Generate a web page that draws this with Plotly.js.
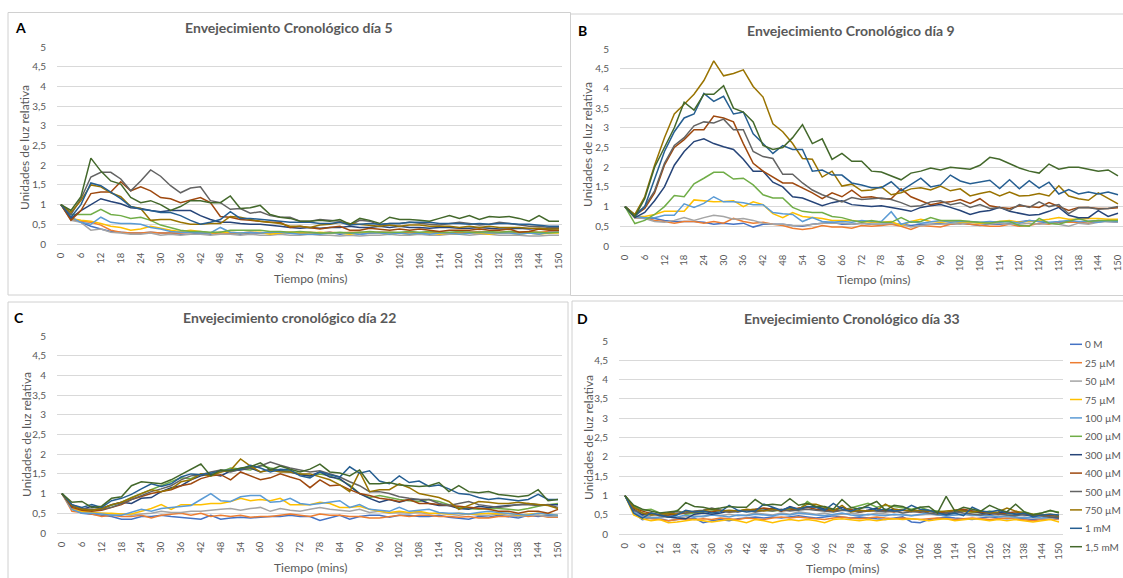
<!DOCTYPE html>
<html><head><meta charset="utf-8">
<script src="https://cdn.plot.ly/plotly-3.0.1.min.js"></script>
<style>html,body{margin:0;padding:0;background:#fff;overflow:hidden;} #chart{width:1123px;height:578px;}</style>
</head><body><div id="chart"></div>
<script>
// ---- categories / labels ----
const times = [0,3,6,9,12,15,18,21,24,27,30,33,36,39,42,45,48,51,54,57,60,63,66,69,72,75,78,81,84,87,90,93,96,99,102,105,108,111,114,117,120,123,126,129,132,135,138,141,144,147,150];
const xTicks = [0,6,12,18,24,30,36,42,48,54,60,66,72,78,84,90,96,102,108,114,120,126,132,138,144,150];
const seriesNames = ['0 M','25 µM','50 µM','75 µM','100 µM','200 µM','300 µM','400 µM','500 µM','750 µM','1 mM','1,5 mM'];
const seriesColors = ['#4472C4','#ED7D31','#A5A5A5','#FFC000','#5B9BD5','#70AD47','#264478','#9E480E','#636363','#997300','#255E91','#43682B'];
const panelTitles = ['Envejecimiento Cronológico día 5','Envejecimiento Cronológico día 9','Envejecimiento cronológico día 22','Envejecimiento Cronológico día 33'];
const panelLetters = ['A','B','C','D'];
const xTitle = 'Tiempo (mins)';
const yTitle = 'Unidades de luz relativa';

// ---- Panel A: día 5 ----
const d5_0 = [1,0.65,0.55,0.45,0.38,0.32,0.3,0.28,0.28,0.3, 0.28,0.28,0.25,0.25,0.28,0.25,0.3,0.28,0.25,0.28, 0.28,0.28,0.3,0.28,0.28,0.25,0.28,0.3,0.25,0.28, 0.25,0.28,0.3,0.28,0.28,0.3,0.28,0.28,0.3,0.28, 0.28,0.3,0.28,0.3,0.28,0.3,0.28,0.3,0.28,0.3, 0.3];
const d5_25 = [1,0.62,0.58,0.55,0.48,0.35,0.3,0.28,0.28,0.3, 0.28,0.28,0.28,0.3,0.28,0.28,0.28,0.28,0.28,0.3, 0.28,0.3,0.28,0.3,0.28,0.3,0.28,0.3,0.28,0.3, 0.3,0.28,0.3,0.3,0.28,0.3,0.28,0.3,0.3,0.28, 0.3,0.3,0.32,0.3,0.3,0.32,0.3,0.32,0.3,0.32, 0.3];
const d5_50 = [1,0.6,0.55,0.35,0.38,0.3,0.28,0.25,0.25,0.28, 0.22,0.25,0.22,0.25,0.25,0.22,0.25,0.25,0.22,0.25, 0.22,0.22,0.25,0.22,0.22,0.25,0.22,0.22,0.2,0.22, 0.2,0.22,0.22,0.25,0.22,0.22,0.25,0.22,0.22,0.25, 0.25,0.22,0.25,0.25,0.22,0.22,0.22,0.2,0.2,0.22, 0.22];
const d5_75 = [1,0.65,0.6,0.58,0.52,0.45,0.42,0.35,0.38,0.45, 0.4,0.35,0.32,0.35,0.32,0.28,0.3,0.3,0.28,0.3, 0.3,0.25,0.28,0.3,0.28,0.28,0.3,0.28,0.28,0.25, 0.28,0.3,0.28,0.25,0.28,0.25,0.28,0.28,0.25,0.28, 0.25,0.28,0.28,0.25,0.28,0.28,0.25,0.28,0.25,0.28, 0.28];
const d5_100 = [1,0.68,0.55,0.5,0.68,0.55,0.52,0.52,0.5,0.42, 0.38,0.32,0.3,0.3,0.28,0.28,0.42,0.3,0.28,0.3, 0.28,0.3,0.3,0.28,0.25,0.25,0.25,0.28,0.28,0.28, 0.25,0.28,0.28,0.25,0.28,0.25,0.28,0.25,0.28,0.28, 0.25,0.28,0.3,0.28,0.28,0.28,0.25,0.28,0.25,0.3, 0.3];
const d5_200 = [1,0.75,0.75,0.75,0.88,0.75,0.72,0.65,0.68,0.6, 0.48,0.42,0.35,0.32,0.32,0.3,0.3,0.35,0.35,0.35, 0.35,0.32,0.32,0.3,0.32,0.3,0.28,0.28,0.3,0.28, 0.3,0.32,0.3,0.3,0.3,0.32,0.3,0.32,0.3,0.3, 0.32,0.3,0.3,0.32,0.3,0.32,0.3,0.3,0.3,0.28, 0.3];
const d5_300 = [1,0.65,0.85,1.0,1.15,1.08,1.02,0.92,0.9,0.85, 0.82,0.85,0.85,0.85,0.72,0.62,0.55,0.55,0.52,0.5, 0.5,0.48,0.45,0.42,0.4,0.42,0.4,0.42,0.42,0.45, 0.42,0.42,0.45,0.42,0.45,0.42,0.42,0.4,0.42,0.42, 0.4,0.4,0.42,0.4,0.38,0.38,0.4,0.38,0.4,0.38, 0.4];
const d5_400 = [1,0.6,0.85,1.28,1.32,1.32,1.58,1.35,1.45,1.35, 1.18,1.15,1.05,1.12,1.18,1.05,0.7,0.68,0.62,0.6, 0.58,0.55,0.55,0.42,0.45,0.42,0.38,0.42,0.45,0.35, 0.35,0.4,0.38,0.35,0.38,0.35,0.38,0.35,0.32,0.35, 0.35,0.35,0.38,0.35,0.35,0.38,0.3,0.32,0.38,0.35, 0.35];
const d5_500 = [1,0.75,1.15,1.7,1.82,1.82,1.65,1.35,1.6,1.88, 1.72,1.48,1.3,1.42,1.45,1.1,1.05,0.88,0.9,0.78, 0.82,0.72,0.68,0.68,0.58,0.58,0.62,0.6,0.58,0.48, 0.6,0.58,0.48,0.52,0.52,0.55,0.52,0.5,0.48,0.52, 0.55,0.52,0.48,0.5,0.55,0.52,0.48,0.45,0.45,0.42, 0.42];
const d5_750 = [1,0.8,1.1,1.5,1.45,1.3,1.2,0.95,0.9,0.6, 0.62,0.62,0.55,0.5,0.5,0.52,0.52,0.7,0.68,0.62, 0.58,0.55,0.52,0.45,0.45,0.42,0.48,0.5,0.55,0.52, 0.5,0.48,0.45,0.48,0.45,0.48,0.48,0.45,0.45,0.45, 0.42,0.45,0.42,0.45,0.42,0.42,0.42,0.4,0.4,0.38, 0.38];
const d5_1mM = [1,0.68,1.0,1.55,1.48,1.32,1.15,0.95,0.88,0.85, 0.8,0.8,0.72,0.6,0.5,0.55,0.62,0.82,0.65,0.65, 0.62,0.6,0.58,0.55,0.55,0.55,0.52,0.52,0.55,0.48, 0.5,0.52,0.5,0.52,0.52,0.55,0.55,0.55,0.52,0.52, 0.52,0.5,0.52,0.5,0.52,0.52,0.5,0.5,0.48,0.45, 0.45];
const d5_15mM = [1,0.85,1.2,2.18,1.85,1.6,1.52,1.18,1.05,1.1, 1.0,0.85,0.95,1.1,1.1,1.05,1.05,1.22,0.9,0.92, 0.98,0.75,0.68,0.65,0.58,0.58,0.6,0.58,0.62,0.5, 0.65,0.6,0.52,0.68,0.62,0.62,0.6,0.58,0.65,0.72, 0.65,0.72,0.62,0.7,0.68,0.7,0.65,0.58,0.72,0.58, 0.58];

// ---- Panel B: día 9 ----
const d9_0 = [1,0.72,0.7,0.7,0.65,0.62,0.62,0.62,0.6,0.55, 0.58,0.55,0.58,0.48,0.55,0.55,0.55,0.52,0.5,0.55, 0.58,0.6,0.55,0.55,0.58,0.55,0.55,0.55,0.55,0.52, 0.55,0.55,0.58,0.55,0.58,0.55,0.52,0.55,0.55,0.58, 0.62,0.65,0.62,0.58,0.6,0.62,0.6,0.62,0.65,0.62, 0.6];
const d9_25 = [1,0.72,0.72,0.65,0.62,0.58,0.62,0.62,0.58,0.62, 0.58,0.7,0.62,0.58,0.6,0.55,0.52,0.45,0.42,0.45, 0.52,0.48,0.48,0.45,0.52,0.5,0.52,0.55,0.5,0.42, 0.52,0.5,0.48,0.55,0.58,0.55,0.52,0.5,0.5,0.55, 0.5,0.52,0.58,0.55,0.62,0.6,0.6,0.58,0.62,0.65, 0.62];
const d9_50 = [1,0.72,0.7,0.62,0.6,0.65,0.72,0.65,0.72,0.78, 0.75,0.68,0.7,0.65,0.58,0.55,0.55,0.52,0.52,0.55, 0.58,0.58,0.58,0.55,0.58,0.55,0.55,0.58,0.55,0.48, 0.52,0.55,0.55,0.58,0.55,0.6,0.58,0.55,0.58,0.55, 0.55,0.58,0.55,0.58,0.55,0.5,0.58,0.55,0.6,0.62, 0.6];
const d9_75 = [1,0.75,0.75,0.8,0.88,0.88,0.88,1.17,1.15,1.12, 1.13,1.15,1.0,1.12,1.05,0.82,0.72,0.85,0.75,0.72, 0.7,0.65,0.65,0.65,0.62,0.6,0.6,0.62,0.52,0.62, 0.68,0.62,0.6,0.62,0.6,0.6,0.58,0.6,0.62,0.65, 0.6,0.62,0.65,0.68,0.72,0.68,0.68,0.7,0.7,0.68, 0.68];
const d9_100 = [1,0.75,0.72,0.72,0.78,0.78,1.07,0.98,1.08,1.25, 1.12,1.12,1.1,1.05,1.05,0.85,0.82,0.8,0.62,0.72, 0.62,0.6,0.62,0.6,0.65,0.62,0.62,0.87,0.55,0.62, 0.58,0.62,0.65,0.6,0.62,0.62,0.6,0.62,0.6,0.62, 0.58,0.65,0.62,0.6,0.62,0.65,0.62,0.62,0.6,0.65, 0.62];
const d9_200 = [1,0.57,0.65,0.8,1.0,1.28,1.25,1.58,1.72,1.87, 1.87,1.7,1.72,1.55,1.3,1.22,1.22,0.98,0.88,0.85, 0.85,0.75,0.72,0.65,0.6,0.65,0.6,0.6,0.72,0.6, 0.62,0.72,0.65,0.65,0.65,0.62,0.6,0.58,0.62,0.62, 0.52,0.5,0.7,0.58,0.55,0.62,0.7,0.62,0.65,0.65, 0.65];
const d9_300 = [1,0.72,0.85,1.15,1.5,2.05,2.4,2.65,2.72,2.6, 2.52,2.45,2.2,1.9,1.9,1.62,1.5,1.25,1.22,1.12, 1.02,1.1,1.15,1.05,1.02,1.0,1.02,0.98,0.93,0.88, 0.98,1.02,1.05,0.98,0.9,0.8,0.87,0.9,0.98,0.88, 0.83,0.78,0.8,0.88,0.98,0.78,0.72,0.72,0.9,0.75, 0.83];
const d9_400 = [1,0.78,0.95,1.35,2.05,2.5,2.7,2.95,2.95,3.3, 3.25,3.15,2.6,2.1,1.9,1.75,1.6,1.6,1.48,1.35, 1.2,1.35,1.25,1.42,1.23,1.25,1.2,1.2,1.45,1.25, 1.15,1.05,1.1,1.12,1.18,1.08,1.2,1.02,0.98,0.95, 1.02,1.0,0.98,1.1,1.0,0.9,0.98,0.98,0.95,0.95, 0.97];
const d9_500 = [1,0.8,1.0,1.4,2.1,2.55,2.75,3.05,3.15,3.12, 3.22,2.95,2.95,2.4,2.27,2.22,1.82,1.82,1.6,1.42, 1.3,1.2,1.12,1.23,1.18,1.2,1.22,1.18,1.1,1.0, 1.02,1.12,1.15,1.05,1.1,0.98,1.05,0.95,0.98,0.9, 1.05,0.98,1.12,1.0,1.05,0.82,0.97,0.98,0.93,0.95, 1.0];
const d9_750 = [1,0.8,1.25,2.05,2.75,3.35,3.6,3.85,4.2,4.7, 4.32,4.38,4.47,4.05,3.78,3.1,2.9,2.6,2.22,2.2, 1.75,1.9,1.52,1.57,1.4,1.42,1.5,1.3,1.35,1.45, 1.48,1.42,1.52,1.4,1.45,1.27,1.33,1.38,1.27,1.37, 1.27,1.28,1.33,1.27,1.53,1.27,1.2,1.16,1.35,1.2, 1.07];
const d9_1mM = [1,0.75,1.0,1.7,2.4,2.9,3.25,3.35,3.87,3.67, 3.8,3.35,3.4,2.85,2.6,2.35,2.55,2.45,2.45,1.9, 1.93,1.8,1.8,1.6,1.55,1.48,1.48,1.63,1.4,1.55, 1.72,1.5,1.55,1.8,1.65,1.58,1.62,1.67,1.46,1.68, 1.45,1.66,1.47,1.62,1.32,1.43,1.32,1.37,1.32,1.37, 1.3];
const d9_15mM = [1,0.75,1.2,2.0,2.5,3.0,3.65,3.45,3.85,3.85, 4.07,3.5,3.4,3.15,2.55,2.45,2.5,2.75,3.08,2.6, 2.72,2.2,2.35,2.15,2.15,1.9,1.88,1.78,1.68,1.85, 1.9,1.98,1.93,2.0,1.98,1.95,2.05,2.25,2.2,2.08, 1.98,1.9,1.85,2.08,1.95,2.0,2.0,1.95,1.9,1.93, 1.78];

// ---- Panel C: día 22 ----
const d22_0 = [1,0.62,0.5,0.48,0.45,0.42,0.35,0.35,0.42,0.42, 0.45,0.42,0.4,0.38,0.35,0.45,0.35,0.38,0.4,0.38, 0.4,0.42,0.42,0.45,0.42,0.42,0.32,0.38,0.45,0.35, 0.42,0.45,0.45,0.4,0.45,0.45,0.42,0.42,0.45,0.4, 0.38,0.35,0.42,0.4,0.45,0.42,0.38,0.45,0.42,0.45, 0.42];
const d22_25 = [1,0.55,0.52,0.48,0.42,0.45,0.42,0.42,0.45,0.38, 0.45,0.48,0.5,0.45,0.5,0.42,0.45,0.42,0.45,0.4, 0.42,0.42,0.45,0.48,0.45,0.42,0.48,0.45,0.45,0.42, 0.42,0.38,0.38,0.42,0.45,0.42,0.45,0.45,0.42,0.42, 0.4,0.42,0.38,0.38,0.42,0.42,0.45,0.42,0.45,0.4, 0.4];
const d22_50 = [1,0.6,0.52,0.5,0.5,0.48,0.48,0.45,0.48,0.5, 0.55,0.52,0.52,0.55,0.55,0.58,0.6,0.62,0.58,0.62, 0.65,0.55,0.62,0.58,0.55,0.6,0.65,0.6,0.58,0.55, 0.6,0.52,0.55,0.5,0.52,0.5,0.52,0.48,0.5,0.48, 0.45,0.48,0.45,0.45,0.48,0.45,0.42,0.45,0.45,0.42, 0.42];
const d22_75 = [1,0.62,0.55,0.52,0.5,0.5,0.48,0.48,0.55,0.62, 0.72,0.6,0.72,0.72,0.72,0.75,0.75,0.8,0.88,0.82, 0.85,0.82,0.88,0.72,0.72,0.72,0.78,0.75,0.65,0.65, 0.68,0.6,0.55,0.52,0.55,0.52,0.55,0.5,0.5,0.48, 0.5,0.48,0.48,0.5,0.48,0.5,0.45,0.48,0.5,0.48, 0.45];
const d22_100 = [1,0.6,0.5,0.5,0.48,0.45,0.45,0.52,0.6,0.55, 0.62,0.65,0.68,0.7,0.85,1.0,0.82,0.8,0.92,0.95, 0.95,0.78,0.8,0.88,0.75,0.72,0.75,0.78,0.82,0.65, 0.72,0.6,0.58,0.55,0.65,0.55,0.58,0.6,0.52,0.5, 0.5,0.48,0.52,0.55,0.52,0.5,0.48,0.45,0.5,0.48, 0.45];
const d22_200 = [1,0.7,0.6,0.58,0.62,0.7,0.78,0.9,1.0,1.12, 1.2,1.3,1.4,1.38,1.5,1.5,1.55,1.65,1.62,1.6, 1.72,1.65,1.6,1.58,1.5,1.45,1.5,1.45,1.35,1.22, 1.0,0.9,0.95,0.9,0.85,0.82,0.8,0.85,0.8,0.72, 0.65,0.62,0.6,0.62,0.62,0.6,0.58,0.62,0.68,0.72, 0.75];
const d22_300 = [1,0.68,0.6,0.68,0.62,0.72,0.78,0.75,0.88,0.9, 1.05,1.15,1.2,1.35,1.45,1.5,1.45,1.58,1.6,1.65, 1.55,1.62,1.58,1.55,1.48,1.45,1.55,1.42,1.38,1.2, 1.0,0.88,0.78,0.85,0.78,0.85,0.85,0.75,0.7,0.7, 0.62,0.6,0.68,0.65,0.68,0.7,0.72,0.75,0.72,0.72, 0.72];
const d22_400 = [1,0.65,0.58,0.55,0.58,0.65,0.72,0.85,0.92,1.0, 1.05,1.1,1.2,1.25,1.38,1.45,1.48,1.35,1.55,1.45, 1.35,1.4,1.5,1.42,1.35,1.15,1.35,1.2,1.22,1.1, 1.0,0.95,0.88,0.85,0.8,0.85,0.75,0.75,0.72,0.7, 0.68,0.65,0.62,0.6,0.55,0.55,0.5,0.55,0.55,0.5, 0.6];
const d22_500 = [1,0.72,0.62,0.6,0.6,0.65,0.75,0.85,0.95,1.05, 1.12,1.2,1.35,1.45,1.48,1.55,1.6,1.55,1.62,1.65, 1.7,1.8,1.72,1.65,1.6,1.55,1.58,1.5,1.42,1.3, 1.2,1.05,1.05,1.0,0.92,0.88,0.85,0.85,0.75,0.7, 0.75,0.8,0.72,0.68,0.65,0.68,0.72,0.72,0.7,0.72, 0.65];
const d22_750 = [1,0.7,0.6,0.58,0.62,0.72,0.78,0.9,1.0,1.1, 1.05,1.12,1.3,1.35,1.5,1.45,1.55,1.6,1.88,1.7, 1.55,1.6,1.55,1.55,1.5,1.5,1.42,1.35,1.22,1.05, 1.55,1.05,1.1,1.1,1.25,1.15,1.0,0.95,0.9,0.8, 0.6,0.7,0.8,0.78,0.75,0.75,0.78,0.75,0.72,0.7, 0.62];
const d22_1mM = [1,0.72,0.65,0.72,0.65,0.82,0.88,0.98,1.12,1.25, 1.18,1.25,1.42,1.5,1.48,1.52,1.58,1.6,1.62,1.72, 1.65,1.55,1.62,1.6,1.45,1.4,1.55,1.48,1.42,1.68, 1.52,1.58,1.32,1.25,1.45,1.28,1.32,1.18,1.22,1.12, 1.0,0.98,0.9,0.85,0.88,0.85,0.82,0.85,0.98,0.85, 0.85];
const d22_15mM = [1,0.78,0.8,0.65,0.68,0.88,0.92,1.2,1.3,1.28, 1.25,1.35,1.48,1.6,1.75,1.45,1.6,1.58,1.65,1.68, 1.78,1.6,1.7,1.62,1.55,1.62,1.75,1.55,1.52,1.45, 1.6,1.25,1.25,1.28,1.22,1.2,1.18,1.2,1.28,1.05, 1.2,1.05,1.02,1.05,0.98,0.95,0.92,0.95,1.1,0.82, 0.85];

// ---- Panel D: día 33 ----
const d33_0 = [1,0.55,0.38,0.42,0.4,0.35,0.38,0.4,0.42,0.3, 0.35,0.38,0.35,0.4,0.42,0.45,0.42,0.45,0.42,0.45, 0.48,0.45,0.42,0.45,0.48,0.45,0.42,0.45,0.42,0.4, 0.38,0.42,0.45,0.32,0.3,0.38,0.42,0.45,0.42,0.4, 0.38,0.42,0.45,0.42,0.4,0.42,0.4,0.38,0.4,0.42, 0.4];
const d33_25 = [1,0.58,0.45,0.4,0.38,0.35,0.38,0.4,0.38,0.4, 0.38,0.42,0.4,0.38,0.42,0.4,0.38,0.42,0.45,0.42, 0.45,0.42,0.4,0.38,0.42,0.45,0.42,0.4,0.42,0.45, 0.42,0.4,0.42,0.4,0.38,0.4,0.42,0.4,0.38,0.4, 0.42,0.4,0.38,0.4,0.42,0.4,0.38,0.35,0.38,0.4, 0.38];
const d33_50 = [1,0.58,0.5,0.45,0.42,0.45,0.42,0.45,0.48,0.45, 0.5,0.48,0.52,0.48,0.5,0.55,0.52,0.5,0.55,0.52, 0.58,0.55,0.52,0.55,0.5,0.52,0.55,0.52,0.5,0.55, 0.52,0.5,0.52,0.48,0.5,0.52,0.5,0.48,0.5,0.52, 0.48,0.5,0.45,0.48,0.45,0.42,0.45,0.42,0.4,0.42, 0.4];
const d33_75 = [1,0.5,0.4,0.35,0.38,0.3,0.32,0.35,0.38,0.35, 0.32,0.35,0.38,0.35,0.3,0.38,0.35,0.3,0.35,0.38, 0.35,0.38,0.35,0.3,0.38,0.4,0.38,0.35,0.38,0.35, 0.38,0.4,0.38,0.4,0.38,0.35,0.38,0.4,0.35,0.38, 0.4,0.38,0.35,0.38,0.35,0.38,0.35,0.32,0.35,0.38, 0.32];
const d33_100 = [1,0.6,0.45,0.42,0.45,0.48,0.45,0.5,0.45,0.48, 0.5,0.48,0.45,0.5,0.48,0.52,0.5,0.48,0.52,0.5, 0.55,0.52,0.5,0.48,0.52,0.55,0.5,0.48,0.52,0.5, 0.48,0.52,0.5,0.48,0.52,0.55,0.5,0.48,0.5,0.52, 0.5,0.48,0.5,0.45,0.48,0.45,0.42,0.45,0.42,0.45, 0.42];
const d33_200 = [1,0.72,0.62,0.65,0.55,0.5,0.62,0.52,0.55,0.58, 0.6,0.62,0.58,0.6,0.62,0.65,0.62,0.6,0.62,0.65, 0.62,0.85,0.7,0.68,0.65,0.62,0.68,0.72,0.8,0.7, 0.75,0.72,0.68,0.65,0.7,0.62,0.6,0.58,0.62,0.6, 0.58,0.55,0.6,0.55,0.52,0.55,0.58,0.52,0.55,0.6, 0.58];
const d33_300 = [1,0.65,0.5,0.55,0.5,0.45,0.42,0.4,0.52,0.55, 0.52,0.55,0.6,0.58,0.62,0.6,0.62,0.68,0.6,0.72, 0.65,0.7,0.72,0.65,0.62,0.7,0.62,0.58,0.62,0.68, 0.6,0.65,0.62,0.6,0.58,0.6,0.55,0.52,0.58,0.62, 0.6,0.55,0.52,0.55,0.58,0.52,0.5,0.48,0.5,0.45, 0.42];
const d33_400 = [1,0.68,0.6,0.55,0.48,0.5,0.52,0.55,0.58,0.6, 0.58,0.62,0.58,0.6,0.62,0.65,0.68,0.65,0.6,0.62, 0.68,0.7,0.65,0.62,0.6,0.62,0.65,0.58,0.6,0.62, 0.6,0.58,0.62,0.6,0.58,0.6,0.58,0.55,0.62,0.65, 0.6,0.58,0.55,0.52,0.55,0.58,0.52,0.5,0.48,0.5, 0.45];
const d33_500 = [1,0.62,0.55,0.5,0.52,0.55,0.58,0.55,0.6,0.62, 0.68,0.62,0.58,0.6,0.62,0.58,0.62,0.6,0.65,0.6, 0.62,0.65,0.62,0.6,0.58,0.62,0.6,0.58,0.62,0.6, 0.58,0.6,0.55,0.58,0.6,0.55,0.52,0.55,0.58,0.55, 0.52,0.5,0.55,0.52,0.5,0.48,0.52,0.5,0.48,0.45, 0.45];
const d33_750 = [1,0.7,0.55,0.5,0.52,0.55,0.52,0.6,0.58,0.62, 0.65,0.6,0.62,0.6,0.65,0.62,0.6,0.65,0.62,0.68, 0.65,0.78,0.78,0.7,0.6,0.75,0.58,0.62,0.6,0.62, 0.78,0.65,0.62,0.6,0.62,0.6,0.58,0.6,0.62,0.6, 0.58,0.6,0.55,0.58,0.68,0.6,0.55,0.52,0.5,0.52, 0.48];
const d33_1mM = [1,0.55,0.42,0.55,0.5,0.45,0.5,0.62,0.58,0.6, 0.55,0.58,0.75,0.62,0.58,0.6,0.78,0.7,0.62,0.7, 0.65,0.72,0.7,0.62,0.8,0.65,0.6,0.68,0.7,0.62, 0.65,0.6,0.62,0.75,0.65,0.62,0.55,0.5,0.55,0.48, 0.7,0.6,0.58,0.62,0.55,0.52,0.55,0.45,0.5,0.52, 0.5];
const d33_15mM = [1,0.75,0.65,0.6,0.55,0.58,0.6,0.82,0.72,0.7, 0.65,0.68,0.72,0.7,0.7,0.9,0.75,0.78,0.75,0.92, 0.75,0.8,0.72,0.72,0.65,0.9,0.7,0.65,0.75,0.85, 0.62,0.75,0.72,0.62,0.7,0.72,0.55,0.98,0.6,0.7, 0.65,0.6,0.75,0.65,0.58,0.78,0.58,0.5,0.55,0.62, 0.55];

const panelData = [
  [d5_0,d5_25,d5_50,d5_75,d5_100,d5_200,d5_300,d5_400,d5_500,d5_750,d5_1mM,d5_15mM],
  [d9_0,d9_25,d9_50,d9_75,d9_100,d9_200,d9_300,d9_400,d9_500,d9_750,d9_1mM,d9_15mM],
  [d22_0,d22_25,d22_50,d22_75,d22_100,d22_200,d22_300,d22_400,d22_500,d22_750,d22_1mM,d22_15mM],
  [d33_0,d33_25,d33_50,d33_75,d33_100,d33_200,d33_300,d33_400,d33_500,d33_750,d33_1mM,d33_15mM]
];

// ---- layout geometry (pixels) ----
const W = 1123, H = 578;
const PX = v => v / W, PY = v => 1 - v / H;
const geo = [
  {l:57, r:562, t:47, b:244, x0:61, x150:559, title:[289,28], letter:[20,28], ytl:[25,148], xtl:[310,278], box:[8,12.5,570.5,295]},
  {l:620, r:1123, t:49, b:246, x0:625, x150:1118, title:[851,30], letter:[582,30], ytl:[588,145], xtl:[873,279], box:[570.5,14,1130,295.5]},
  {l:57, r:562, t:336, b:533, x0:62, x150:558, title:[289,317], letter:[19,317], ytl:[26,435], xtl:[310,567], box:[8,302,568,590]},
  {l:619, r:1062.5, t:341, b:534.3, x0:625, x150:1059, title:[851.5,318], letter:[582.5,318], ytl:[588,438], xtl:[842,568], box:[572,301,1130,590]}
];

const FONT = 'Lato, "Open Sans", "Liberation Sans", sans-serif';
const GRAY = '#595959';
const GRID = '#d9d9d9';

const traces = [];
const layout = {
  width: W, height: H,
  margin: {l:0, r:0, t:0, b:0, pad:0},
  paper_bgcolor: '#ffffff', plot_bgcolor: '#ffffff',
  separators: ', ',
  showlegend: false,
  font: {family: FONT, color: GRAY, size: 10},
  annotations: [], shapes: []
};

geo.forEach((g, p) => {
  const sfx = p === 0 ? '' : String(p + 1);
  const slope = (g.x150 - g.x0) / 150;
  layout['xaxis' + sfx] = {
    domain: [PX(g.l), PX(g.r)],
    range: [-(g.x0 - g.l) / slope, 150 + (g.r - g.x150) / slope],
    anchor: 'y' + sfx,
    tickmode: 'array', tickvals: xTicks,
    tickangle: -90,
    tickfont: {family: FONT, size: 9.5, color: GRAY},
    ticks: 'outside', ticklen: 4, tickcolor: 'rgba(0,0,0,0)',
    ticklabeloverflow: 'allow',
    showgrid: false, zeroline: false,
    showline: true, linecolor: GRID, linewidth: 1,
    fixedrange: true
  };
  layout['yaxis' + sfx] = {
    domain: [PY(g.b), PY(g.t)],
    range: [0, 5],
    anchor: 'x' + sfx,
    tick0: 0, dtick: 0.5,
    tickfont: {family: FONT, size: 10, color: GRAY},
    ticks: 'outside', ticklen: 8, tickcolor: 'rgba(0,0,0,0)',
    showgrid: true, gridcolor: GRID, gridwidth: 1,
    zeroline: false, showline: false,
    fixedrange: true
  };
  panelData[p].forEach((vals, i) => {
    traces.push({
      type: 'scatter', mode: 'lines',
      x: times, y: vals,
      xaxis: 'x' + sfx, yaxis: 'y' + sfx,
      name: seriesNames[i],
      line: {color: seriesColors[i], width: 1.5},
      hoverinfo: 'skip', showlegend: false
    });
  });
  // panel border
  layout.shapes.push({type:'rect', xref:'paper', yref:'paper', layer:'below',
    x0: PX(g.box[0]), x1: PX(g.box[2]), y0: PY(g.box[3]), y1: PY(g.box[1]),
    line: {color: '#d0d0d0', width: 1}, fillcolor: 'rgba(0,0,0,0)'});
  // titles
  layout.annotations.push({xref:'paper', yref:'paper', x: PX(g.title[0]), y: PY(g.title[1]),
    xanchor:'center', yanchor:'middle', showarrow:false,
    text: '<b>' + panelTitles[p] + '</b>', font: {family: FONT, size: 14, color: GRAY}});
  layout.annotations.push({xref:'paper', yref:'paper', x: PX(g.letter[0]), y: PY(g.letter[1]),
    xanchor:'center', yanchor:'middle', showarrow:false,
    text: '<b>' + panelLetters[p] + '</b>', font: {family: FONT, size: 14, color: '#000000'}});
  layout.annotations.push({xref:'paper', yref:'paper', x: PX(g.ytl[0]), y: PY(g.ytl[1]),
    xanchor:'center', yanchor:'middle', showarrow:false, textangle: -90,
    text: yTitle, font: {family: FONT, size: 12, color: GRAY}});
  layout.annotations.push({xref:'paper', yref:'paper', x: PX(g.xtl[0]), y: PY(g.xtl[1]),
    xanchor:'center', yanchor:'middle', showarrow:false,
    text: xTitle, font: {family: FONT, size: 12, color: GRAY}});
});

// legend (panel D, right side)
seriesNames.forEach((nm, i) => {
  const yy = 344.3 + i * 18.4;
  layout.shapes.push({type:'line', xref:'paper', yref:'paper',
    x0: PX(1070), x1: PX(1082), y0: PY(yy), y1: PY(yy),
    line: {color: seriesColors[i], width: 1.5}});
  layout.annotations.push({xref:'paper', yref:'paper', x: PX(1083), y: PY(yy),
    xanchor:'left', yanchor:'middle', showarrow:false,
    text: nm, font: {family: FONT, size: 10, color: GRAY}});
});

Plotly.newPlot('chart', traces, layout, {displayModeBar: false, staticPlot: true, responsive: false});
</script></body></html>
